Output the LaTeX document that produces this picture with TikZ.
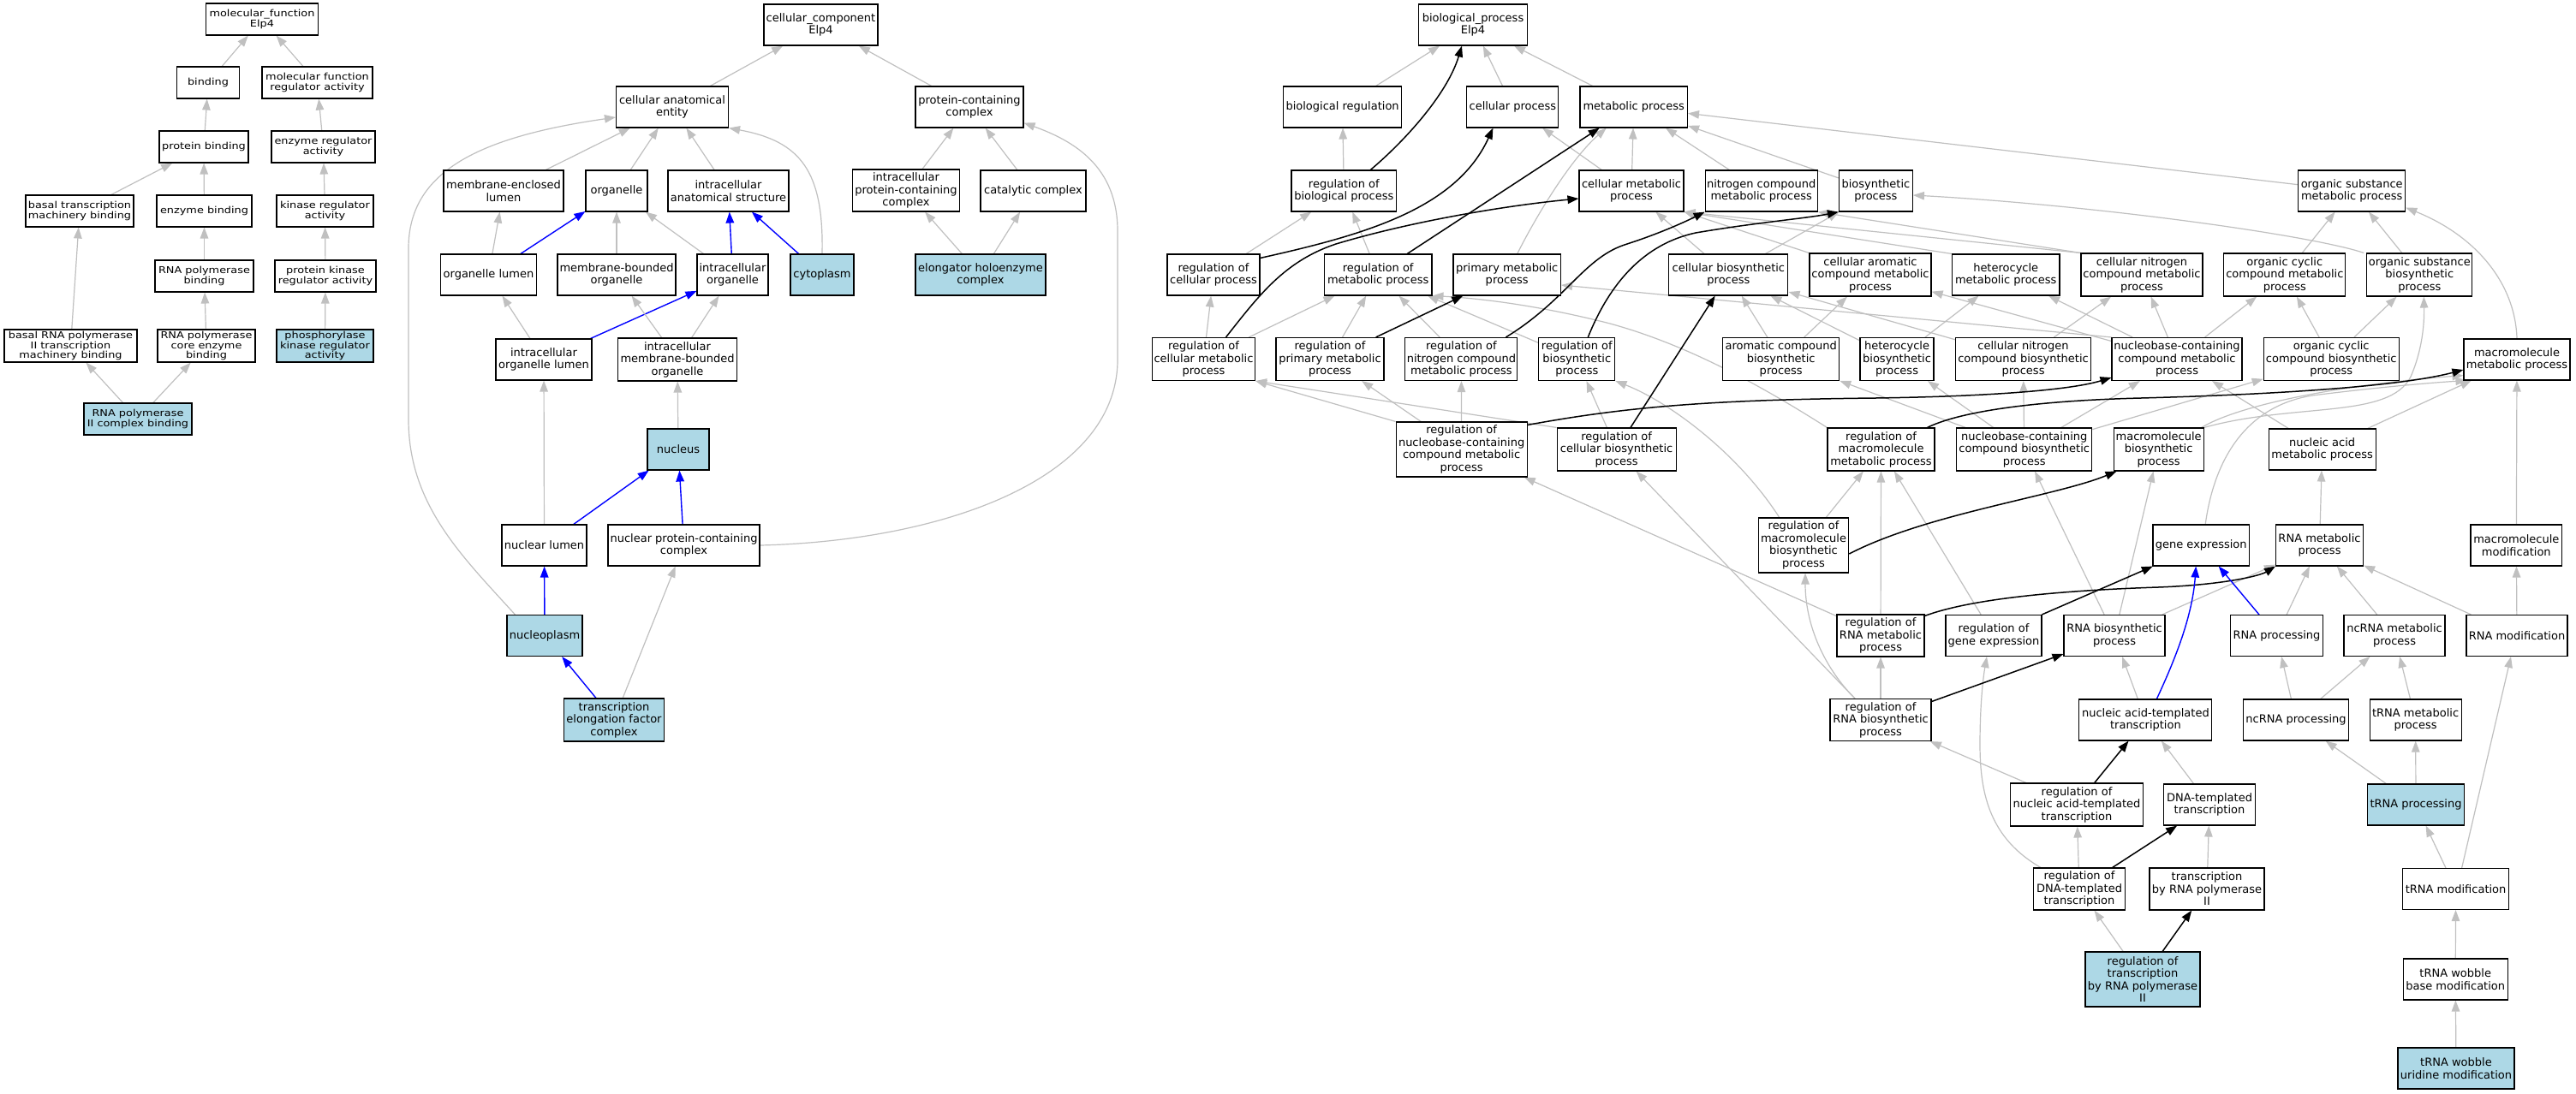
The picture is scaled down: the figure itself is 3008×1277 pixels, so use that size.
\documentclass[tikz,border=0pt]{standalone}
\usepackage{fontspec}
\usetikzlibrary{arrows.meta}
\newfontfamily\lfont[FakeStretch=1.17]{DejaVu Sans}
\newfontfamily\rfont{DejaVu Sans}
\definecolor{hlblue}{HTML}{ADD8E6}
\definecolor{egray}{HTML}{C0C0C0}
\pgfdeclarelayer{bg}
\pgfdeclarelayer{paper}
\pgfsetlayers{paper,bg,main}
\tikzset{
  gobox/.style={draw=black, line width=1.1pt, fill=white, rectangle, inner sep=0pt, align=center},
  lbox/.style={gobox, minimum height=37pt, font=\lfont\fontsize{11}{11.7}\selectfont},
  rbox/.style={gobox, minimum height=48pt, font=\rfont\fontsize{13}{14.5}\selectfont},
  hl/.style={fill=hlblue},
  gedge/.style={draw=egray, line width=1.2pt, -{Triangle[length=13pt,width=9.5pt]}},
  kedge/.style={draw=black, line width=1.5pt, -{Triangle[length=13pt,width=9.5pt]}},
  bedge/.style={draw=blue, line width=1.4pt, -{Triangle[length=13pt,width=9.5pt]}},
}
\begin{document}
\begin{tikzpicture}[x=1pt,y=-1pt]
\useasboundingbox (0,0) rectangle (3008,1277);
\begin{pgfonlayer}{paper}
\fill[white] (0,0) rectangle (3008,1277);
\end{pgfonlayer}

% ---------------- molecular function ----------------
\node[lbox, minimum width=131pt] (mf) at (306,22.5) {molecular\_function\\Elp4};
\node[lbox, minimum width=73pt] (binding) at (243,96.5) {binding};
\node[lbox, minimum width=129pt] (mfra) at (370.5,96.5) {molecular function\\regulator activity};
\node[lbox, minimum width=104pt] (pbind) at (238,171.5) {protein binding};
\node[lbox, minimum width=121pt] (era) at (377.5,171.5) {enzyme regulator\\activity};
\node[lbox, minimum width=126pt] (btmb) at (93,246.5) {basal transcription\\machinery binding};
\node[lbox, minimum width=111pt] (ebind) at (238.5,246.5) {enzyme binding};
\node[lbox, minimum width=113pt] (kra) at (379.5,246.5) {kinase regulator\\activity};
\node[lbox, minimum width=115pt] (rpb) at (238.5,322.5) {RNA polymerase\\binding};
\node[lbox, minimum width=118pt] (pkra) at (380,322.5) {protein kinase\\regulator activity};
\node[lbox, minimum width=155pt, minimum height=38pt] (brp) at (82.5,404) {basal RNA polymerase\\II transcription\\machinery binding};
\node[lbox, minimum width=114pt, minimum height=38pt] (rpce) at (241,404) {RNA polymerase\\core enzyme\\binding};
\node[lbox, hl, minimum width=113pt, minimum height=38pt] (phk) at (379.5,404) {phosphorylase\\kinase regulator\\activity};
\node[lbox, hl, minimum width=126pt] (rp2) at (161,489.5) {RNA polymerase\\II complex binding};

% ---------------- cellular component ----------------
\node[rbox, minimum width=133pt] (cc) at (958.5,29) {cellular\_component\\Elp4};
\node[rbox, minimum width=131pt] (cae) at (785,125) {cellular anatomical\\entity};
\node[rbox, minimum width=126pt] (pcc) at (1132,125) {protein-containing\\complex};
\node[rbox, minimum width=140pt] (mel) at (588,223) {membrane-enclosed\\lumen};
\node[rbox, minimum width=72pt] (org) at (720,223) {organelle};
\node[rbox, minimum width=141pt] (ias) at (850.5,223) {intracellular\\anatomical structure};
\node[rbox, minimum width=125pt, minimum height=49pt] (ipcc) at (1058,222.5) {intracellular\\protein-containing\\complex};
\node[rbox, minimum width=123pt] (catc) at (1206.5,223) {catalytic complex};
\node[rbox, minimum width=112pt] (orgl) at (570.5,321) {organelle lumen};
\node[rbox, minimum width=138pt] (mbo) at (720,321) {membrane-bounded\\organelle};
\node[rbox, minimum width=83pt] (io) at (855.5,321) {intracellular\\organelle};
\node[rbox, hl, minimum width=74pt] (cyto) at (960,321) {cytoplasm};
\node[rbox, hl, minimum width=152pt] (ehc) at (1145,321) {elongator holoenzyme\\complex};
\node[rbox, minimum width=112pt] (iol) at (635,420) {intracellular\\organelle lumen};
\node[rbox, minimum width=139pt, minimum height=50pt] (imbo) at (791,420) {intracellular\\membrane-bounded\\organelle};
\node[rbox, hl, minimum width=72pt] (nuc) at (792,525) {nucleus};
\node[rbox, minimum width=99pt] (nl) at (635.5,637) {nuclear lumen};
\node[rbox, minimum width=177pt] (npc) at (798.5,637) {nuclear protein-containing\\complex};
\node[rbox, hl, minimum width=88pt] (npl) at (636,742.5) {nucleoplasm};
\node[rbox, hl, minimum width=117pt, minimum height=50pt] (tefc) at (717,841) {transcription\\elongation factor\\complex};

% ---------------- biological process ----------------
\node[rbox, minimum width=127pt] (bp) at (1720,29) {biological\_process\\Elp4};
\node[rbox, minimum width=138pt] (breg) at (1567.6,125) {biological regulation};
\node[rbox, minimum width=107pt] (cp) at (1766.4,125) {cellular process};
\node[rbox, minimum width=125.5pt] (mp) at (1907.7,125) {metabolic process};
\node[rbox, minimum width=122.6pt] (rbp) at (1569.3,223) {regulation of\\biological process};
\node[rbox, minimum width=122pt] (cmp) at (1905,223) {cellular metabolic\\process};
\node[rbox, minimum width=131pt] (ncmp) at (2056.7,223) {nitrogen compound\\metabolic process};
\node[rbox, minimum width=86pt] (bsp) at (2190.4,223) {biosynthetic\\process};
\node[rbox, minimum width=125pt] (osmp) at (2746.2,223) {organic substance\\metabolic process};
\node[rbox, minimum width=108pt] (rcp) at (1417,321) {regulation of\\cellular process};
\node[rbox, minimum width=125.5pt] (rmp) at (1609.2,321) {regulation of\\metabolic process};
\node[rbox, minimum width=125.5pt] (pmp) at (1759.7,321) {primary metabolic\\process};
\node[rbox, minimum width=139pt] (cbp) at (2018.4,321) {cellular biosynthetic\\process};
\node[rbox, minimum width=142pt, minimum height=50pt] (cacmp) at (2184,321) {cellular aromatic\\compound metabolic\\process};
\node[rbox, minimum width=125.6pt] (hmp) at (2342.2,321) {heterocycle\\metabolic process};
\node[rbox, minimum width=142pt, minimum height=50pt] (cncmp) at (2501,321) {cellular nitrogen\\compound metabolic\\process};
\node[rbox, minimum width=142pt, minimum height=50pt] (occmp) at (2667.8,321) {organic cyclic\\compound metabolic\\process};
\node[rbox, minimum width=123pt, minimum height=50pt] (osbp) at (2825.3,321) {organic substance\\biosynthetic\\process};
\node[rbox, minimum width=120pt, minimum height=50pt] (rcmp) at (1405.5,419.5) {regulation of\\cellular metabolic\\process};
\node[rbox, minimum width=126pt, minimum height=50pt] (rpmp) at (1553,419.5) {regulation of\\primary metabolic\\process};
\node[rbox, minimum width=131pt, minimum height=50pt] (rncmp) at (1706.4,419.5) {regulation of\\nitrogen compound\\metabolic process};
\node[rbox, minimum width=89pt, minimum height=50pt] (rbsp) at (1841.3,419.5) {regulation of\\biosynthetic\\process};
\node[rbox, minimum width=136pt, minimum height=50pt] (acbp) at (2079.7,419.5) {aromatic compound\\biosynthetic\\process};
\node[rbox, minimum width=86pt, minimum height=50pt] (hbp) at (2215,419.5) {heterocycle\\biosynthetic\\process};
\node[rbox, minimum width=158pt, minimum height=50pt] (cncbp) at (2362.5,419.5) {cellular nitrogen\\compound biosynthetic\\process};
\node[rbox, minimum width=152pt, minimum height=50pt] (nccmp) at (2542,419.5) {nucleobase-containing\\compound metabolic\\process};
\node[rbox, minimum width=158pt, minimum height=50pt] (occbp) at (2722.2,419.5) {organic cyclic\\compound biosynthetic\\process};
\node[rbox, minimum width=124pt] (mmp) at (2939,420) {macromolecule\\metabolic process};
\node[rbox, minimum width=153pt, minimum height=64pt] (rnccmp) at (1706.6,525) {regulation of\\nucleobase-containing\\compound metabolic\\process};
\node[rbox, minimum width=139pt, minimum height=50pt] (rcbp) at (1887.6,525) {regulation of\\cellular biosynthetic\\process};
\node[rbox, minimum width=125pt, minimum height=50pt] (rmmp) at (2196.5,525) {regulation of\\macromolecule\\metabolic process};
\node[rbox, minimum width=158pt, minimum height=50pt] (nccbp) at (2363.7,525) {nucleobase-containing\\compound biosynthetic\\process};
\node[rbox, minimum width=105pt, minimum height=50pt] (mbp) at (2520.6,525) {macromolecule\\biosynthetic\\process};
\node[rbox, minimum width=125pt] (namp) at (2711.6,525) {nucleic acid\\metabolic process};
\node[rbox, minimum width=105.5pt, minimum height=64pt] (rmbp) at (2106,637) {regulation of\\macromolecule\\biosynthetic\\process};
\node[rbox, minimum width=112.5pt] (gexp) at (2570.2,637) {gene expression};
\node[rbox, minimum width=102pt] (rnamp) at (2708.5,637) {RNA metabolic\\process};
\node[rbox, minimum width=106.7pt] (mmod) at (2938.3,637) {macromolecule\\modification};
\node[rbox, minimum width=102pt, minimum height=49pt] (rrmp) at (2196,742.5) {regulation of\\RNA metabolic\\process};
\node[rbox, minimum width=112pt] (rge) at (2328,742.5) {regulation of\\gene expression};
\node[rbox, minimum width=118pt] (rnabp) at (2469,742.5) {RNA biosynthetic\\process};
\node[rbox, minimum width=108pt] (rnap) at (2658.5,742.5) {RNA processing};
\node[rbox, minimum width=118pt] (ncrmp) at (2796,742.5) {ncRNA metabolic\\process};
\node[rbox, minimum width=118pt] (rnamod) at (2939,742.5) {RNA modification};
\node[rbox, minimum width=118pt, minimum height=49pt] (rrbp) at (2196,841) {regulation of\\RNA biosynthetic\\process};
\node[rbox, minimum width=155pt] (natt) at (2505.4,841) {nucleic acid-templated\\transcription};
\node[rbox, minimum width=123.5pt] (ncrp) at (2681,841) {ncRNA processing};
\node[rbox, minimum width=107pt] (trmp) at (2820.6,841) {tRNA metabolic\\process};
\node[rbox, minimum width=155pt, minimum height=50pt] (rnatt) at (2425,940) {regulation of\\nucleic acid-templated\\transcription};
\node[rbox, minimum width=107pt] (dtt) at (2580,940) {DNA-templated\\transcription};
\node[rbox, hl, minimum width=113pt] (trp) at (2821,940) {tRNA processing};
\node[rbox, minimum width=107pt, minimum height=49pt] (rdtt) at (2428,1038.5) {regulation of\\DNA-templated\\transcription};
\node[rbox, minimum width=134pt, minimum height=49pt] (trnap2) at (2577,1038.5) {transcription\\by RNA polymerase\\II};
\node[rbox, minimum width=124pt] (trmod) at (2867.6,1038.5) {tRNA modification};
\node[rbox, hl, minimum width=134pt, minimum height=64pt] (rtrnap2) at (2502,1144) {regulation of\\transcription\\by RNA polymerase\\II};
\node[rbox, minimum width=122pt] (twbm) at (2867.2,1144) {tRNA wobble\\base modification};
\node[rbox, hl, minimum width=136pt] (twum) at (2868,1248) {tRNA wobble\\uridine modification};

\begin{pgfonlayer}{bg}
% ---- MF edges
\draw[gedge] (binding) -- (mf);
\draw[gedge] (mfra) -- (mf);
\draw[gedge] (pbind) -- (binding);
\draw[gedge] (era) -- (mfra);
\draw[gedge] (btmb) -- (pbind);
\draw[gedge] (ebind) -- (pbind);
\draw[gedge] (kra) -- (era);
\draw[gedge] (rpb) -- (ebind);
\draw[gedge] (pkra) -- (kra);
\draw[gedge] (brp) -- (btmb);
\draw[gedge] (rpce) -- (rpb);
\draw[gedge] (phk) -- (pkra);
\draw[gedge] (rp2) -- (brp);
\draw[gedge] (rp2) -- (rpce);

% ---- CC edges
\draw[gedge] (cae) -- (cc);
\draw[gedge] (pcc) -- (cc);
\draw[gedge] (mel) -- (cae);
\draw[gedge] (org) -- (cae);
\draw[gedge] (ias) -- (cae);
\draw[gedge] (cyto.north) .. controls (962,200) and (935,165) .. (cae.south east);
\draw[gedge] ([xshift=10pt]npl.north west) .. controls (540,650) and (477,590) .. (477,490) -- (477,290) .. controls (477,200) and (560,160) .. ([yshift=-12pt]cae.west);
\draw[gedge] (npc.east) .. controls (1100,632) and (1305,560) .. (1305,420) -- (1305,270) .. controls (1305,195) and (1255,165) .. ([yshift=6pt]pcc.south east);
\draw[gedge] (ipcc) -- (pcc);
\draw[gedge] (catc) -- (pcc);
\draw[gedge] (ehc) -- (ipcc);
\draw[gedge] (ehc) -- (catc);
\draw[gedge] (orgl) -- (mel);
\draw[bedge] (orgl) -- (org);
\draw[gedge] (mbo) -- (org);
\draw[gedge] (io) -- (org);
\draw[bedge] (io) -- (ias);
\draw[bedge] (cyto) -- (ias);
\draw[gedge] (iol) -- (orgl);
\draw[bedge] (iol) -- (io);
\draw[gedge] (imbo) -- (mbo);
\draw[gedge] (imbo) -- (io);
\draw[gedge] (nuc) -- (imbo);
\draw[gedge] (nl) -- (iol);
\draw[bedge] (nl) -- (nuc);
\draw[bedge] (npc) -- (nuc);
\draw[bedge] (npl) -- (nl);
\draw[bedge] (tefc) -- (npl);
\draw[gedge] (tefc) -- (npc);

% ---- BP gray edges
\draw[gedge] (breg) -- (bp);
\draw[gedge] (cp) -- (bp);
\draw[gedge] (mp) -- (bp);
\draw[gedge] (rbp) -- (breg);
\draw[gedge] (cmp) -- (cp);
\draw[gedge] (cmp) -- (mp);
\draw[gedge] (ncmp) -- (mp);
\draw[gedge] (bsp) -- (mp);
\draw[gedge] (osmp) -- (mp);
\draw[gedge] (rcp) -- (rbp);
\draw[gedge] (rmp) -- (rbp);
\draw[gedge] ([xshift=12pt]pmp.north) .. controls (1795,250) and (1835,185) .. ([xshift=-32pt]mp.south);
\draw[gedge] (cbp) -- (cmp);
\draw[gedge] (cbp) -- (bsp);
\draw[gedge] (cacmp.north west) -- (cmp.south east);
\draw[gedge] (hmp.north west) -- (cmp.south east);
\draw[gedge] (cncmp.north west) -- (cmp.south east);
\draw[gedge] (cncmp.north west) -- (ncmp.south east);
\draw[gedge] (occmp) -- (osmp);
\draw[gedge] (osbp) -- (osmp);
\draw[gedge] ([xshift=-3pt]osbp.north west) .. controls (2700,275) and (2450,240) .. ([yshift=-5pt]bsp.east);
\draw[gedge] (mmp.north) .. controls (2937,330) and (2890,275) .. ([yshift=5pt]osmp.south east);
\draw[gedge] (rcmp) -- (rcp);
\draw[gedge] (rcmp) -- (rmp);
\draw[gedge] (rpmp) -- (rmp);
\draw[gedge] (rncmp) -- (rmp);
\draw[gedge] (rbsp) -- (rmp);
\draw[gedge] (acbp) -- (cbp);
\draw[gedge] (acbp) -- (cacmp);
\draw[gedge] (hbp) -- (cbp);
\draw[gedge] (hbp) -- (hmp);
\draw[gedge] (cncbp) -- (cbp);
\draw[gedge] (cncbp) -- (cncmp);
\draw[gedge] (nccmp) -- (cacmp);
\draw[gedge] (nccmp) -- (hmp);
\draw[gedge] (nccmp) -- (cncmp);
\draw[gedge] (nccmp) -- (occmp);
\draw[gedge] (nccmp.north west) -- ([yshift=-12pt]pmp.east);
\draw[gedge] (occbp) -- (occmp);
\draw[gedge] (occbp) -- (osbp);
\draw[gedge] (rnccmp.north west) -- (rcmp.south east);
\draw[gedge] (rnccmp) -- (rpmp);
\draw[gedge] (rnccmp) -- (rncmp);
\draw[gedge] (rcbp.north west) -- (rcmp.south east);
\draw[gedge] (rcbp) -- (rbsp);
\draw[gedge] (nccbp) -- (acbp);
\draw[gedge] (nccbp) -- (hbp);
\draw[gedge] (nccbp) -- (cncbp);
\draw[gedge] (nccbp) -- (nccmp);
\draw[gedge] (nccbp) -- (occbp);
\draw[gedge] (namp) -- (nccmp);
\draw[gedge] (namp) -- (mmp);
\draw[gedge] (mbp.north east) .. controls (2680,470) and (2790,490) .. (2815,440) .. controls (2828,410) and (2831,380) .. ([xshift=5pt]osbp.south);
\draw[gedge] ([xshift=-3pt]mbp.north east) .. controls (2620,470) and (2750,448) .. ([yshift=6pt]mmp.south west);
\draw[gedge] ([xshift=5pt]gexp.north) .. controls (2585,540) and (2620,475) .. (2700,462) .. controls (2780,452) and (2840,447) .. ([xshift=4pt]mmp.south west);
\draw[gedge] (rmmp.north west) .. controls (2040,440) and (1960,400) .. (1880,378) .. controls (1790,355) and (1720,348) .. (rmp.south east);
\draw[gedge] ([xshift=25pt]rmbp.north west) .. controls (2030,530) and (1950,470) .. (rbsp.south east);
\draw[gedge] (rmbp) -- (rmmp);
\draw[gedge] (rrmp) -- (rmmp);
\draw[gedge] (rrmp) -- (rnccmp);
\draw[gedge] (rge) -- (rmmp);
\draw[gedge] (rnabp) -- (nccbp);
\draw[gedge] (rnabp) -- (mbp);
\draw[gedge] (rnabp) -- (rnamp);
\draw[gedge] (rnap) -- (rnamp);
\draw[gedge] (ncrmp) -- (rnamp);
\draw[gedge] (rnamod) -- (rnamp);
\draw[gedge] (rnamod) -- (mmod);
\draw[gedge] (mmod) -- (mmp);
\draw[gedge] (rnamp) -- (namp);
\draw[gedge] (rrbp) -- (rrmp);
\draw[gedge] ([xshift=-30pt]rrbp.north) -- ([xshift=23pt]rcbp.south);
\draw[gedge] ([xshift=-30pt]rrbp.north) .. controls (2130,780) and (2108,730) .. ([xshift=2pt]rmbp.south);
\draw[gedge] (natt) -- (rnabp);
\draw[gedge] (ncrp) -- (rnap);
\draw[gedge] (ncrp) -- (ncrmp);
\draw[gedge] (trmp) -- (ncrmp);
\draw[gedge] (rnatt) -- (rrbp);
\draw[gedge] (dtt) -- (natt);
\draw[gedge] (trp) -- (ncrp);
\draw[gedge] (trp) -- (trmp);
\draw[gedge] (rdtt) -- (rnatt);
\draw[gedge] ([xshift=9pt]rdtt.north west) .. controls (2325,980) and (2312,930) .. (2312,870) .. controls (2312,820) and (2316,790) .. ([xshift=-8pt]rge.south);
\draw[gedge] (trnap2) -- (dtt);
\draw[gedge] (trmod) -- (trp);
\draw[gedge] ([xshift=7pt]trmod.north) -- ([xshift=-7pt]rnamod.south);
\draw[gedge] (rtrnap2) -- (rdtt);
\draw[gedge] (twbm) -- (trmod);
\draw[gedge] (twum) -- (twbm);

% ---- BP black edges
\draw[kedge] ([xshift=31pt]rbp.north) .. controls (1640,165) and (1690,110) .. ([xshift=-13pt]bp.south);
\draw[kedge] ([yshift=-5pt]rcp.north east) .. controls (1590,275) and (1700,245) .. ([xshift=-23pt]cp.south);
\draw[kedge] ([xshift=26pt]rcmp.north) .. controls (1470,345) and (1500,305) .. (1560,285) .. controls (1650,258) and (1760,240) .. ([yshift=-9pt]cmp.west);
\draw[kedge] ([xshift=34pt]rmp.north) -- ([xshift=-40pt]mp.south);
\draw[kedge] (rpmp) -- (pmp);
\draw[kedge] ([xshift=52pt]rncmp.north) .. controls (1830,350) and (1850,300) .. (1900,285) .. controls (1940,272) and (1970,258) .. (ncmp.south west);
\draw[kedge] ([xshift=13pt]rbsp.north) .. controls (1880,330) and (1920,285) .. (1980,272) .. controls (2050,260) and (2110,255) .. (bsp.south west);
\draw[kedge] (rcbp) -- (cbp);
\draw[kedge] ([yshift=-4pt]rnccmp.north east) .. controls (1900,475) and (2000,467) .. (2190,465) .. controls (2330,463) and (2420,455) .. ([yshift=4pt]nccmp.south west);
\draw[kedge] ([xshift=54pt]rmmp.north) .. controls (2290,480) and (2380,468) .. (2500,465) .. controls (2650,461) and (2800,452) .. ([yshift=-12pt]mmp.west);
\draw[kedge] ([yshift=-10pt]rmbp.east) .. controls (2250,600) and (2400,580) .. ([xshift=4pt]mbp.south west);
\draw[kedge] ([yshift=-2pt]rrmp.north east) .. controls (2300,700) and (2400,690) .. (2520,686) .. controls (2600,683) and (2640,672) .. (rnamp.south west);
\draw[kedge] (rge) -- (gexp);
\draw[kedge] (rrbp) -- (rnabp);
\draw[kedge] (rnatt) -- (natt);
\draw[kedge] (rdtt) -- (dtt);
\draw[kedge] (rtrnap2) -- (trnap2);

% ---- BP blue edges
\draw[bedge] ([xshift=13pt]natt.north) .. controls (2540,770) and (2560,720) .. ([xshift=-6pt]gexp.south);
\draw[bedge] (rnap) -- (gexp);
\end{pgfonlayer}
\end{tikzpicture}
\end{document}
